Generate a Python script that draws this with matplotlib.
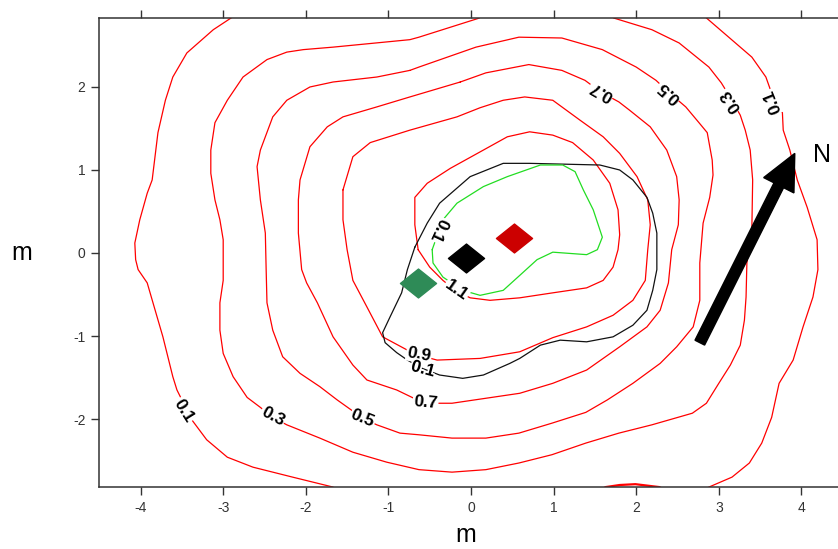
import matplotlib
matplotlib.use('Agg')
import matplotlib.pyplot as plt
import matplotlib.patheffects as pe
from matplotlib.path import Path
import numpy as np

plt.rcParams['font.family'] = ['Liberation Sans', 'DejaVu Sans']
plt.rcParams['axes.unicode_minus'] = False

# ---- contour lines, (x, y) in metres ----
RED_01_WEST = [(-2.80, 2.90), (-3.12, 2.69), (-3.44, 2.41), (-3.61, 2.12), (-3.70, 1.84), (-3.79, 1.45),
               (-3.86, 0.88), (-3.92, 0.72), (-4.01, 0.40), (-4.07, 0.12), (-4.06, -0.08), (-4.03, -0.20),
               (-3.92, -0.36), (-3.85, -0.60), (-3.73, -1.01), (-3.61, -1.49), (-3.56, -1.65), (-3.38, -2.01),
               (-3.20, -2.25), (-2.95, -2.46), (-2.64, -2.58), (-2.16, -2.70), (-1.67, -2.82), (-1.60, -2.90)]
RED_01_EAST = [(2.77, 2.90), (3.12, 2.60), (3.40, 2.36), (3.57, 2.12), (3.67, 1.84), (3.77, 1.69),
               (3.78, 1.48), (3.86, 1.24), (3.95, 0.88), (4.07, 0.55), (4.19, 0.16), (4.20, -0.20),
               (4.14, -0.53), (4.02, -0.89), (3.90, -1.29), (3.73, -1.57), (3.64, -1.98), (3.52, -2.29),
               (3.37, -2.53), (3.16, -2.70), (2.88, -2.82), (2.78, -2.88)]
RED_01_SOUTH = [(1.56, -2.86), (1.63, -2.82), (1.80, -2.795), (1.99, -2.785), (2.28, -2.82), (2.35, -2.86)]
RED_03 = [(0.13, 2.90), (0.10, 2.83), (-0.63, 2.60), (-0.74, 2.57), (-1.67, 2.48), (-2.03, 2.45),
          (-2.23, 2.42), (-2.47, 2.33), (-2.76, 2.12), (-2.95, 1.84), (-3.10, 1.57), (-3.15, 1.24),
          (-3.15, 0.96), (-3.10, 0.64), (-3.04, 0.40), (-3.00, 0.16), (-3.00, -0.33), (-3.04, -0.60),
          (-3.04, -0.93), (-3.00, -1.21), (-2.88, -1.49), (-2.71, -1.74), (-2.55, -1.86), (-2.40, -1.98),
          (-2.23, -2.07), (-1.83, -2.23), (-1.43, -2.40), (-1.02, -2.52), (-0.63, -2.61), (-0.23, -2.64),
          (0.18, -2.61), (0.58, -2.53), (0.98, -2.43), (1.39, -2.29), (1.79, -2.17), (2.19, -2.07),
          (2.68, -1.93), (2.85, -1.81), (3.00, -1.57), (3.14, -1.35), (3.26, -1.11), (3.31, -0.81),
          (3.33, -0.53), (3.34, -0.12), (3.40, 0.28), (3.41, 0.88), (3.38, 1.24), (3.32, 1.48),
          (3.26, 1.66), (3.16, 1.84), (3.03, 2.05), (2.88, 2.24), (2.52, 2.53), (2.19, 2.69),
          (1.73, 2.83), (1.62, 2.90)]
RED_05 = [(-0.74, 2.20), (-0.63, 2.24), (0.06, 2.48), (0.58, 2.60), (1.10, 2.59), (1.59, 2.45),
          (2.00, 2.24), (2.24, 2.08), (2.40, 1.93), (2.60, 1.76), (2.76, 1.57), (2.86, 1.45),
          (2.92, 1.12), (2.93, 0.94), (2.89, 0.67), (2.81, 0.36), (2.77, -0.12), (2.77, -0.57),
          (2.69, -0.89), (2.49, -1.13), (2.29, -1.33), (1.96, -1.57), (1.65, -1.77), (1.39, -1.92),
          (0.98, -2.05), (0.58, -2.17), (0.18, -2.23), (-0.23, -2.23), (-0.63, -2.19), (-0.86, -2.17),
          (-1.14, -2.07), (-1.31, -1.99), (-1.62, -1.77), (-1.83, -1.61), (-2.07, -1.45), (-2.28, -1.25),
          (-2.40, -0.93), (-2.47, -0.60), (-2.48, -0.20), (-2.49, 0.24), (-2.55, 0.64), (-2.59, 1.04),
          (-2.55, 1.24), (-2.40, 1.64), (-2.23, 1.84), (-1.95, 2.00), (-1.67, 2.06), (-1.14, 2.12)]
RED_07 = [(-0.13, 2.06), (0.18, 2.17), (0.70, 2.27), (1.10, 2.20), (1.38, 2.08), (1.57, 1.94),
          (1.79, 1.82), (1.92, 1.72), (2.17, 1.52), (2.37, 1.24), (2.49, 0.92), (2.52, 0.64),
          (2.51, 0.34), (2.43, 0.04), (2.39, -0.36), (2.29, -0.69), (2.13, -0.89), (1.80, -1.13),
          (1.40, -1.41), (0.99, -1.57), (0.59, -1.69), (0.18, -1.75), (-0.23, -1.81), (-0.53, -1.81),
          (-0.65, -1.77), (-0.90, -1.65), (-1.26, -1.53), (-1.43, -1.35), (-1.67, -1.01), (-1.86, -0.60),
          (-1.99, -0.36), (-2.05, -0.20), (-2.09, 0.24), (-2.09, 0.64), (-2.07, 0.88), (-1.95, 1.28),
          (-1.74, 1.52), (-1.55, 1.64), (-1.14, 1.76), (-0.74, 1.88)]
RED_09 = [(-1.55, 0.76), (-1.43, 1.16), (-1.22, 1.33), (-0.74, 1.48), (-0.17, 1.64), (0.11, 1.75),
          (0.39, 1.84), (0.65, 1.88), (0.99, 1.84), (1.32, 1.60), (1.60, 1.40), (1.80, 1.20),
          (2.01, 0.92), (2.14, 0.64), (2.17, 0.34), (2.14, 0.04), (2.11, -0.33), (1.96, -0.57),
          (1.72, -0.75), (1.40, -0.89), (0.99, -1.02), (0.59, -1.19), (0.11, -1.27), (-0.41, -1.29),
          (-0.64, -1.23), (-0.77, -1.17), (-1.07, -1.01), (-1.26, -0.65), (-1.43, -0.33), (-1.50, 0.04),
          (-1.55, 0.40)]
RED_11 = [(-0.64, 0.04), (-0.68, 0.34), (-0.68, 0.67), (-0.53, 0.84), (-0.25, 1.02), (0.15, 1.24),
          (0.44, 1.40), (0.71, 1.46), (0.99, 1.42), (1.23, 1.33), (1.48, 1.12), (1.68, 0.84),
          (1.78, 0.52), (1.80, 0.22), (1.78, 0.04), (1.72, -0.17), (1.60, -0.33), (1.40, -0.42),
          (0.99, -0.48), (0.59, -0.54), (0.23, -0.57), (-0.01, -0.54), (-0.19, -0.45), (-0.34, -0.33),
          (-0.50, -0.17)]
BLACK_01 = [(-0.68, 0.07), (-0.53, 0.36), (-0.38, 0.60), (-0.01, 0.92), (0.39, 1.08), (0.71, 1.08),
            (1.56, 1.06), (1.80, 1.00), (1.96, 0.88), (2.13, 0.67), (2.20, 0.48), (2.25, 0.24),
            (2.25, 0.04), (2.25, -0.20), (2.20, -0.45), (2.13, -0.69), (1.96, -0.87), (1.72, -1.01),
            (1.40, -1.07), (1.08, -1.05), (0.84, -1.11), (0.59, -1.27), (0.47, -1.33), (0.15, -1.47),
            (-0.10, -1.51), (-0.38, -1.47), (-0.59, -1.39), (-0.77, -1.29), (-0.90, -1.20), (-1.04, -1.08),
            (-1.07, -0.96), (-0.98, -0.77), (-0.84, -0.48), (-0.77, -0.20), (-0.71, -0.02)]
GREEN_LINE = [(-0.47, 0.04), (-0.34, 0.40), (-0.17, 0.60), (0.15, 0.80), (0.44, 0.92), (0.84, 1.06),
              (1.11, 1.06), (1.26, 0.98), (1.36, 0.76), (1.48, 0.52), (1.59, 0.19), (1.53, 0.04),
              (1.40, -0.02), (0.99, 0.01), (0.80, -0.08), (0.59, -0.27), (0.39, -0.45), (0.11, -0.51),
              (-0.10, -0.45), (-0.34, -0.29), (-0.46, -0.12)]

# ---- contour labels: text, x, y, rotation ----
LABELS = [("0.1", -3.48, -1.90, -58), ("0.3", -2.40, -1.97, -28), ("0.5", -1.31, -1.99, -22),
          ("0.7", -0.55, -1.80, -5), ("0.9", -0.63, -1.22, -10), ("1.1", -0.18, -0.45, -35),
          ("0.7", 1.58, 1.95, 150), ("0.5", 2.40, 1.94, 138), ("0.3", 3.15, 1.84, 124),
          ("0.1", 3.65, 1.82, 112), ("0.1", -0.39, 0.28, -115)]
BLACK_LOW_LABEL = ("0.1", -0.58, -1.40, -15)

# ---- markers ----
MARK_X = [-0.06, 0.52, -0.64]
MARK_Y = [-0.06, 0.18, -0.36]
MARK_COLORS = ['#000000', '#CC0000', '#2E8B57']

# ---- north arrow ----
ARROW_START = (2.77, -1.08)
ARROW_END = (3.92, 1.20)
N_POS = (4.25, 1.18)

XTICKS = [-4, -3, -2, -1, 0, 1, 2, 3, 4]
YTICKS = [-2, -1, 0, 1, 2]

fig = plt.figure(figsize=(8.38, 5.49), dpi=100)
ax = fig.add_axes([99.3 / 838, 62 / 549, 743.4 / 838, 469 / 549])
ax.set_xlim(-4.5, 4.5)
ax.set_ylim(-2.819, 2.831)


def draw(pts, color, closed=False, lw=0.9):
    a = np.array(pts)
    if closed:
        a = np.vstack([a, a[:1]])
    ax.plot(a[:, 0], a[:, 1], color=color, lw=lw, zorder=2,
            solid_joinstyle='round', solid_capstyle='round')


for p in (RED_01_WEST, RED_01_EAST, RED_03):
    draw(p, '#FF0000')
draw(RED_01_SOUTH, '#FF0000', lw=1.6)
for p in (RED_05, RED_07, RED_09, RED_11):
    draw(p, '#FF0000', closed=True)
draw(BLACK_01, '#111111', closed=True)
draw(GREEN_LINE, '#22DD22', closed=True)

LABEL_KW = dict(ha='center', va='center', rotation_mode='anchor', fontsize=12.5,
                fontweight='bold', color='black', zorder=4)
for t, x, y, r in LABELS:
    ax.text(x, y, t, rotation=r,
            bbox=dict(boxstyle='square,pad=0.05', fc='white', ec='none'), **LABEL_KW)
t, x, y, r = BLACK_LOW_LABEL
ax.text(x, y, t, rotation=r,
        path_effects=[pe.withStroke(linewidth=2.5, foreground='white')], **LABEL_KW)

diamond = Path([(0, 0.8), (1, 0), (0, -0.8), (-1, 0), (0, 0.8)],
               [Path.MOVETO, Path.LINETO, Path.LINETO, Path.LINETO, Path.CLOSEPOLY])
for x, y, c in zip(MARK_X, MARK_Y, MARK_COLORS):
    ax.plot([x], [y], marker=diamond, ms=26, color=c, mec=c, ls='none', zorder=5)

ax.arrow(ARROW_START[0], ARROW_START[1], ARROW_END[0] - ARROW_START[0], ARROW_END[1] - ARROW_START[1],
         width=0.13, head_width=0.41, head_length=0.43, length_includes_head=True,
         fc='black', ec='black', zorder=6)
ax.text(N_POS[0], N_POS[1], 'N', fontsize=18, ha='center', va='center', color='black')

ax.set_xticks(XTICKS)
ax.set_yticks(YTICKS)
ax.set_xticklabels([str(v) for v in XTICKS])
ax.set_yticklabels([str(v) for v in YTICKS])
ax.tick_params(axis='both', direction='out', length=6, width=1, color='#333333',
               labelsize=10, labelcolor='#333333', pad=4)
ax.tick_params(axis='x', top=True, labeltop=False)
for s in ('left', 'bottom', 'top'):
    ax.spines[s].set_color('#333333')
    ax.spines[s].set_linewidth(1.1)
ax.spines['right'].set_visible(False)

fig.text(22 / 838, 1 - 253 / 549, 'm', fontsize=18, ha='center', va='center')
fig.text(466 / 838, 1 - 535 / 549, 'm', fontsize=18, ha='center', va='center')

fig.savefig('out.png', dpi=100)
